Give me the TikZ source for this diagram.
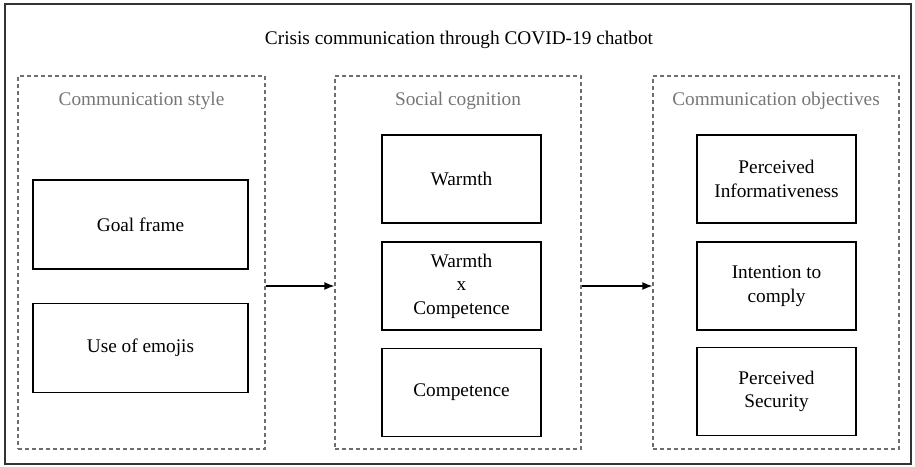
\documentclass[tikz,border=0pt]{standalone}
\usepackage{fontspec}
\setmainfont{Liberation Serif}
\usetikzlibrary{arrows.meta}
\definecolor{lblgray}{HTML}{767676}
\definecolor{dashgray}{HTML}{6E6E6E}
\newcommand{\boxfont}{\rmfamily\fontsize{19.3}{23.5}\selectfont}
\tikzset{
  container/.style={draw=dashgray, line width=1.1pt, dash pattern=on 4pt off 3pt, inner sep=0pt},
  itembox/.style={draw=black, line width=1.8pt, align=center, inner sep=2pt, font=\boxfont},
  grouplabel/.style={text=lblgray, font=\boxfont},
  flow/.style={line width=1.6pt, -{Latex[length=10pt,width=8pt]}}
}
\begin{document}
\begin{tikzpicture}[x=1pt,y=-1pt]
\useasboundingbox (0,0) rectangle (915,466);
\draw[line width=1.4pt, draw=black!80] (5,4) rectangle (911,464);
\node[font=\boxfont] (title) at (459,40) {Crisis communication through COVID-19 chatbot};
% containers
\node[container, minimum width=247pt, minimum height=373pt] (lc) at (141.5,262.5) {};
\node[container, minimum width=246pt, minimum height=373pt] (mc) at (458,262.5) {};
\node[container, minimum width=246pt, minimum height=373pt] (rc) at (776,262.5) {};
\node[grouplabel] (ll) at (141.5,101) {Communication style};
\node[grouplabel] (ml) at (458,101) {Social cognition};
\node[grouplabel] (rl) at (776,101) {Communication objectives};
% left boxes
\node[itembox, minimum width=215pt, minimum height=89pt] (a1) at (140.5,224.5) {Goal frame};
\node[itembox, minimum width=215pt, minimum height=89pt] (a2) at (140.5,348) {Use of emojis};
% middle boxes
\node[itembox, minimum width=159pt, minimum height=88pt] (b1) at (461.5,179) {Warmth};
\node[itembox, minimum width=159pt, minimum height=88pt] (b2) at (461.5,286) {Warmth\\x\\Competence};
\node[itembox, minimum width=159pt, minimum height=88pt] (b3) at (461.5,392.5) {Competence};
% right boxes
\node[itembox, minimum width=159pt, minimum height=88pt] (c1) at (776.5,179) {Perceived\\Informativeness};
\node[itembox, minimum width=159pt, minimum height=88pt] (c2) at (776.5,286) {Intention to\\comply};
\node[itembox, minimum width=159pt, minimum height=88pt] (c3) at (776.5,391.5) {Perceived\\Security};
% arrows
\draw[flow] (lc.east |- b2.center) -- (mc.west |- b2.center);
\draw[flow] (mc.east |- c2.center) -- (rc.west |- c2.center);
\end{tikzpicture}
\end{document}
